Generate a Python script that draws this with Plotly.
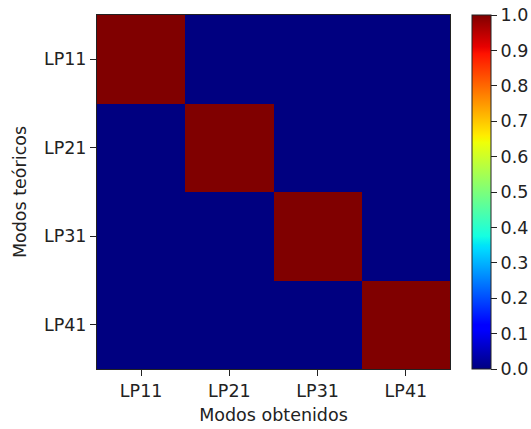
import numpy as np
import plotly.graph_objects as go

modes_x = ["LP11", "LP21", "LP31", "LP41"]
modes_y = ["LP11", "LP21", "LP31", "LP41"]
values = [
    [1.0, 0.0, 0.0, 0.0],
    [0.0, 1.0, 0.0, 0.0],
    [0.0, 0.0, 1.0, 0.0],
    [0.0, 0.0, 0.0, 1.0],
]
cbar_ticks = [0.0, 0.1, 0.2, 0.3, 0.4, 0.5, 0.6, 0.7, 0.8, 0.9, 1.0]

# matplotlib 'jet' segment data
_jet = {
    "red": [(0.0, 0.0), (0.35, 0.0), (0.66, 1.0), (0.89, 1.0), (1.0, 0.5)],
    "green": [(0.0, 0.0), (0.125, 0.0), (0.375, 1.0), (0.64, 1.0), (0.91, 0.0), (1.0, 0.0)],
    "blue": [(0.0, 0.5), (0.11, 1.0), (0.34, 1.0), (0.65, 0.0), (1.0, 0.0)],
}
def _chan(name, t):
    pts = _jet[name]
    return float(np.interp(t, [p[0] for p in pts], [p[1] for p in pts]))
stops = sorted(set([0.0, 0.11, 0.125, 0.34, 0.35, 0.375, 0.64, 0.65, 0.66, 0.89, 0.91, 1.0]))
jet = [[s, "rgb(%d,%d,%d)" % tuple(round(255 * _chan(c, s)) for c in ("red", "green", "blue"))] for s in stops]

font = dict(family="DejaVu Sans", size=17.5, color="#222222")

fig = go.Figure(go.Heatmap(
    z=values, x=modes_x, y=modes_y,
    colorscale=jet, zmin=0, zmax=1,
    colorbar=dict(
        x=1.0623, xanchor="left", xpad=0, ypad=0,
        y=0.5, yanchor="middle", len=1, lenmode="fraction",
        thickness=19, thicknessmode="pixels",
        outlinewidth=1, outlinecolor="#222222",
        tickvals=cbar_ticks, tickformat=".1f",
        ticks="outside", ticklen=6, tickwidth=1, tickcolor="#222222",
        tickfont=font,
    ),
))
try:
    fig.data[0].colorbar.ticklabelstandoff = -3
except Exception:
    pass

fig.update_layout(
    width=531, height=429,
    margin=dict(l=97, r=81, t=15, b=60, autoexpand=False),
    paper_bgcolor="white", plot_bgcolor="white",
    font=font,
    xaxis=dict(
        title=dict(text="Modos obtenidos", font=font, standoff=8),
        ticks="outside", ticklen=6, tickwidth=1, tickcolor="#222222",
        showline=True, linecolor="#222222", linewidth=1, mirror=True,
        showgrid=False, zeroline=False, tickfont=font, automargin=False,
    ),
    yaxis=dict(
        title=dict(text="Modos teóricos", font=font, standoff=12),
        autorange="reversed",
        ticks="outside", ticklen=6, tickwidth=1, tickcolor="#222222",
        showline=True, linecolor="#222222", linewidth=1, mirror=True,
        showgrid=False, zeroline=False, tickfont=font, automargin=False,
    ),
)

fig.write_html("out.html", config={"displayModeBar": False},
               post_script="document.body.style.margin='0';")
